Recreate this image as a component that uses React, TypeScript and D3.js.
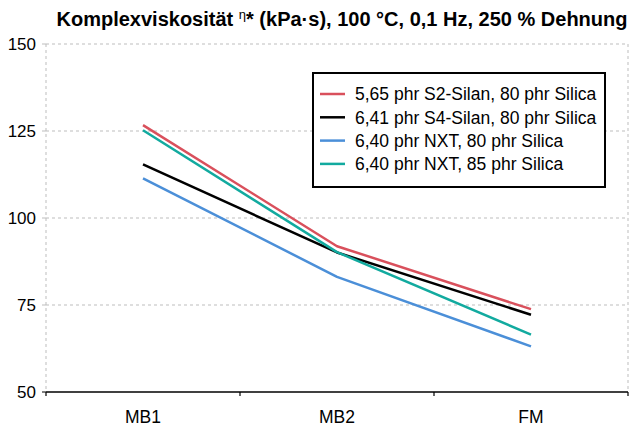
import React from 'react';
import * as d3 from 'd3';

const width = 636;
const height = 429;
const margin = { top: 44, right: 8, bottom: 37, left: 46 };

const categories = ['MB1', 'MB2', 'FM'];
const yTicks = [50, 75, 100, 125, 150];

const seriesNames = [
  '5,65 phr S2-Silan, 80 phr Silica',
  '6,41 phr S4-Silan, 80 phr Silica',
  '6,40 phr NXT, 80 phr Silica',
  '6,40 phr NXT, 85 phr Silica',
];
const seriesColors = ['#d9505c', '#000000', '#4b8fd8', '#12aa9f'];

const s2Silan = [126.7, 91.9, 73.8];
const s4Silan = [115.4, 90.1, 72.2];
const nxt80 = [111.4, 83.1, 63.1];
const nxt85 = [125.2, 90.2, 66.5];
const seriesValues = [s2Silan, s4Silan, nxt80, nxt85];

const font = '"Liberation Sans", Arial, Helvetica, sans-serif';

export default function App() {
  const x = d3.scaleBand<string>()
    .domain(categories)
    .range([margin.left, width - margin.right]);
  const y = d3.scaleLinear()
    .domain([50, 150])
    .range([height - margin.bottom, margin.top]);

  const line = d3.line<number>()
    .x((_, i) => x(categories[i])! + x.bandwidth() / 2)
    .y(d => y(d));

  const x0 = margin.left;
  const x1 = width - margin.right;
  const boundaries = categories.map(c => x(c)!).concat([x1]);

  const legendX = 313;
  const legendY = 73;

  return (
    <svg width={width} height={height} style={{ position: 'absolute', left: 0, top: 0 }} fontFamily={font}>
      <rect width={width} height={height} fill="#fff" />
      <text x={342} y={26} textAnchor="middle" fontSize={20} fontWeight="bold" fill="#000">
        Komplexviskosität <tspan fontSize={13} fontWeight="normal" dy={-7}>η</tspan><tspan dy={7}>* (kPa·s), 100 °C, 0,1 Hz, 250 % Dehnung</tspan>
      </text>

      {/* grid */}
      {yTicks.filter(t => t > 50).map(t => (
        <line key={t} x1={x0} x2={x1} y1={y(t)} y2={y(t)} stroke="#bdbdbd" strokeDasharray="3,3" />
      ))}
      <line x1={x0} x2={x0} y1={y(150)} y2={y(50)} stroke="#bdbdbd" strokeDasharray="3,3" />
      <line x1={x1} x2={x1} y1={y(150)} y2={y(50)} stroke="#bdbdbd" strokeDasharray="3,3" />

      {/* y axis labels */}
      {yTicks.map(t => (
        <g key={t}>
          <line x1={x0 - 4} x2={x0} y1={y(t)} y2={y(t)} stroke={t === 50 ? '#000' : '#bdbdbd'} />
          <text x={x0 - 10} y={y(t)} dy="0.38em" textAnchor="end" fontSize={17} fill="#000">{t}</text>
        </g>
      ))}

      {/* x axis */}
      <line x1={x0} x2={x1} y1={y(50)} y2={y(50)} stroke="#000" strokeWidth={1.5} />
      {boundaries.map((b, i) => (
        <line key={i} x1={b} x2={b} y1={y(50)} y2={y(50) + 4} stroke="#000" strokeWidth={1.2} />
      ))}
      {categories.map(c => (
        <text key={c} x={x(c)! + x.bandwidth() / 2} y={y(50) + 31} textAnchor="middle" fontSize={17.5} fill="#000">{c}</text>
      ))}

      {/* lines */}
      {seriesValues.map((vals, i) => (
        <path key={i} d={line(vals)!} fill="none" stroke={seriesColors[i]} strokeWidth={2.5} strokeLinejoin="round" />
      ))}

      {/* legend */}
      <rect x={legendX} y={legendY} width={292} height={114} fill="#fff" stroke="#000" strokeWidth={2} />
      {seriesNames.map((n, i) => (
        <g key={n} transform={`translate(${legendX}, ${legendY + 21 + i * 23.3})`}>
          <line x1={7} x2={32} y1={0} y2={0} stroke={seriesColors[i]} strokeWidth={2.5} />
          <text x={42} y={0} dy="0.36em" fontSize={17.5} fill="#000">{n}</text>
        </g>
      ))}
    </svg>
  );
}
